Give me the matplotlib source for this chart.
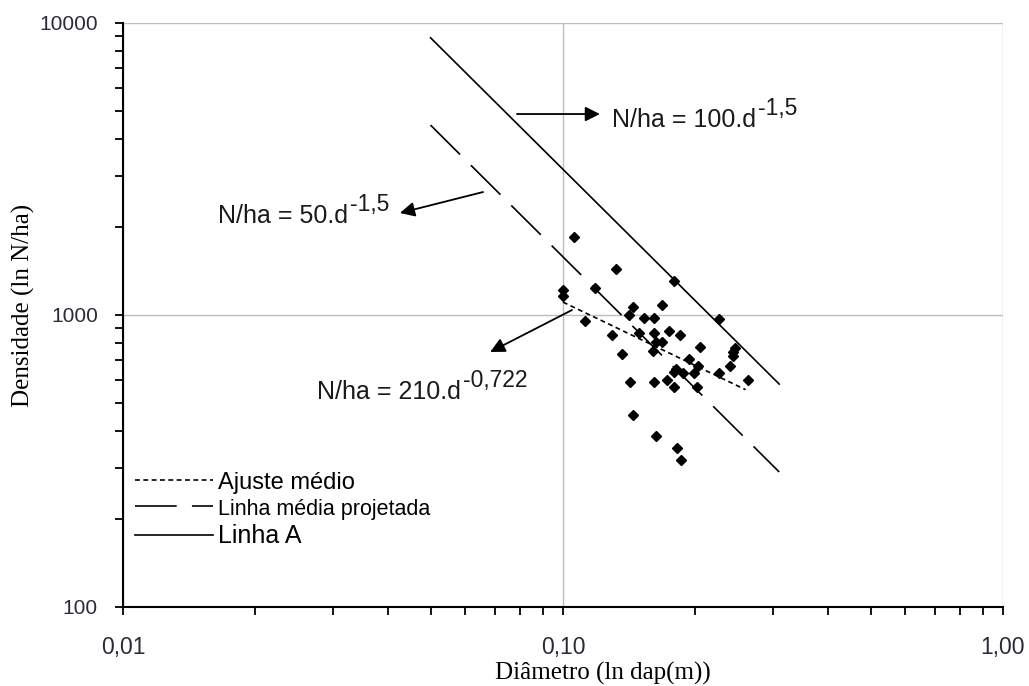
import numpy as np
import matplotlib
matplotlib.use('Agg')
import matplotlib.pyplot as plt
from matplotlib.ticker import FixedLocator, FixedFormatter, LogLocator, NullFormatter

plt.rcParams['font.family'] = ['Liberation Sans', 'DejaVu Sans']
plt.rcParams['lines.scale_dashes'] = False

# dados
diametro = [0.106, 0.132, 0.179, 0.100, 0.100, 0.118, 0.144, 0.168, 0.141, 0.153,
            0.161, 0.226, 0.112, 0.149, 0.161, 0.174, 0.184, 0.129, 0.163, 0.168,
            0.205, 0.160, 0.246, 0.244, 0.243, 0.240, 0.136, 0.193, 0.203, 0.181,
            0.179, 0.187, 0.198, 0.226, 0.263, 0.142, 0.161, 0.172, 0.179, 0.202,
            0.144, 0.163, 0.182, 0.185]
densidade = [1845, 1437, 1307, 1221, 1159, 1237, 1065, 1079, 1002, 979,
             979, 969, 954, 866, 866, 880, 852, 852, 808, 808,
             775, 755, 769, 745, 722, 667, 735, 707, 667, 653,
             637, 631, 631, 633, 598, 588, 590, 598, 565, 565,
             453, 384, 350, 318]

# retas (extremos)
linhaA_d = [0.05, 0.31]
linhaA_n = [8900, 580]
projetada_d = [0.05, 0.31]
projetada_n = [4470, 290]
ajuste_d = [0.10, 0.26]
ajuste_n = [1107, 555]

xticks = [0.01, 0.1, 1.0]
xticklabels = ['0,01', '0,10', '1,00']
yticks = [100, 1000, 10000]
yticklabels = ['100', '1000', '10000']

fig = plt.figure(figsize=(10.29, 6.86), dpi=100)
ax = fig.add_axes([123/1029, 79/686, 880/1029, 584/686])
ax.set_xscale('log')
ax.set_yscale('log')
ax.set_xlim(0.01, 1.0)
ax.set_ylim(100, 10000)

ax.grid(True, which='major', color='#bdbdbd', lw=1)
ax.set_axisbelow(True)
for s in ['top', 'right']:
    ax.spines[s].set_visible(False)
for s in ['left', 'bottom']:
    ax.spines[s].set_linewidth(1.5)
    ax.spines[s].set_color('black')

l_aj, = ax.plot(ajuste_d, ajuste_n, color='black', lw=1.2, dashes=(3.5, 2.5), label='Ajuste médio')
l_pr, = ax.plot(projetada_d, projetada_n, color='black', lw=1.2, dashes=(30, 11), label='Linha média projetada')
l_a, = ax.plot(linhaA_d, linhaA_n, color='black', lw=1.2, label='Linha A')
ax.plot(diametro, densidade, 'D', color='black', ms=4.8, ls='none')

ax.xaxis.set_major_locator(FixedLocator(xticks))
ax.xaxis.set_major_formatter(FixedFormatter(xticklabels))
ax.yaxis.set_major_locator(FixedLocator(yticks))
ax.yaxis.set_major_formatter(FixedFormatter(yticklabels))
ax.xaxis.set_minor_locator(LogLocator(base=10, subs=np.arange(2, 10)))
ax.yaxis.set_minor_locator(LogLocator(base=10, subs=np.arange(2, 10)))
ax.xaxis.set_minor_formatter(NullFormatter())
ax.yaxis.set_minor_formatter(NullFormatter())
ax.tick_params(which='both', direction='out', length=6, width=1.3, color='black')
ax.tick_params(axis='x', which='major', pad=15)
ax.tick_params(axis='y', which='major', pad=12)
for t in ax.get_xticklabels():
    t.set_fontsize(16.5)
    t.set_color('#2a2a3a')
for t in ax.get_yticklabels():
    t.set_fontsize(15)
    t.set_color('#2a2a3a')

ax.set_xlabel('Diâmetro (ln dap(m))', family='Liberation Serif', fontsize=18)
ax.set_ylabel('Densidade (ln N/ha)', family='Liberation Serif', fontsize=18)
ax.xaxis.set_label_coords(0.545, -0.094)
ax.yaxis.set_label_coords(-0.1, 0.517)

arrow = dict(arrowstyle='-|>', mutation_scale=22, lw=1.3, color='black', shrinkA=0, shrinkB=0)
ax.annotate('', xy=(0.1213, 4878), xytext=(0.0786, 4878), arrowprops=arrow)
ax.annotate('', xy=(0.0426, 2235), xytext=(0.0658, 2637), arrowprops=arrow)
ax.annotate('', xy=(0.0683, 747), xytext=(0.1048, 1040), arrowprops=arrow)

formulas = [('N/ha = 100.d', '-1,5', 0.129, 4404),
            ('N/ha = 50.d', '-1,5', 0.01645, 2065),
            ('N/ha = 210.d', '-0,722', 0.0276, 516)]
for base, expo, fx, fy in formulas:
    t = ax.text(fx, fy, base, fontsize=18, va='baseline', ha='left', color='#1a1a1a')
    ax.annotate(expo, xy=(1, 0), xycoords=t, xytext=(1.5, 12.5), textcoords='offset points',
                fontsize=16.5, va='baseline', ha='left', color='#1a1a1a')

leg = ax.legend(handles=[l_aj, l_pr, l_a], loc='upper left', bbox_to_anchor=(0.0136, 0.232),
                frameon=False, fontsize=17, handlelength=3.3, handletextpad=0.2,
                borderpad=0, borderaxespad=0, labelspacing=0.2)
sizes = [17, 15.5, 18]
for t, s in zip(leg.get_texts(), sizes):
    t.set_fontsize(s)

fig.savefig('out.png', dpi=100)
